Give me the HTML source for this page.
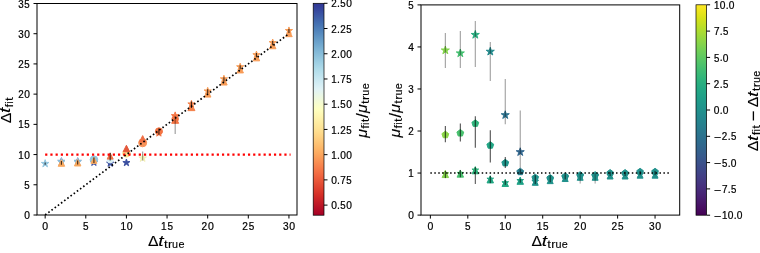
<!DOCTYPE html>
<html><head><meta charset="utf-8"><style>html,body{margin:0;padding:0;background:#fff;width:760px;height:253px;overflow:hidden}svg{display:block;will-change:transform}text{font-family:"Liberation Sans", sans-serif}</style></head><body>
<svg width="760" height="253" viewBox="0 0 760 253" font-family='"Liberation Sans", sans-serif' fill="#000"><rect x="0" y="0" width="760" height="253" fill="#fff"/>
<defs><clipPath id="cl"><rect x="37.00" y="3.50" width="260.00" height="211.50"/></clipPath><clipPath id="cr"><rect x="421.00" y="4.90" width="258.70" height="210.20"/></clipPath></defs>
<g clip-path="url(#cl)">
<polygon points="61.41,157.77 60.57,160.36 57.85,160.36 60.05,161.96 59.21,164.55 61.41,162.95 63.62,164.55 62.77,161.96 64.98,160.36 62.25,160.36 61.41,157.77" fill="#3b4fa0" stroke="#3b4fa0" stroke-width="1.00" stroke-linejoin="miter" stroke-miterlimit="10"/>
<polygon points="77.66,157.77 76.82,160.36 74.10,160.36 76.30,161.96 75.46,164.55 77.66,162.95 79.87,164.55 79.03,161.96 81.23,160.36 78.51,160.36 77.66,157.77" fill="#3b4fa0" stroke="#3b4fa0" stroke-width="1.00" stroke-linejoin="miter" stroke-miterlimit="10"/>
<polygon points="93.92,158.68 93.07,161.27 90.35,161.27 92.55,162.87 91.71,165.46 93.92,163.86 96.12,165.46 95.28,162.87 97.48,161.27 94.76,161.27 93.92,158.68" fill="#3b4fa0" stroke="#3b4fa0" stroke-width="1.00" stroke-linejoin="miter" stroke-miterlimit="10"/>
<polygon points="110.17,159.58 109.33,162.17 106.60,162.17 108.81,163.77 107.96,166.37 110.17,164.76 112.37,166.37 111.53,163.77 113.73,162.17 111.01,162.17 110.17,159.58" fill="#3b4fa0" stroke="#3b4fa0" stroke-width="1.00" stroke-linejoin="miter" stroke-miterlimit="10"/>
<polygon points="126.42,158.98 125.58,161.57 122.85,161.57 125.06,163.17 124.22,165.76 126.42,164.16 128.62,165.76 127.78,163.17 129.99,161.57 127.26,161.57 126.42,158.98" fill="#3b4fa0" stroke="#3b4fa0" stroke-width="1.00" stroke-linejoin="miter" stroke-miterlimit="10"/>
<polygon points="45.16,159.63 44.26,162.40 41.36,162.40 43.71,164.11 42.81,166.87 45.16,165.16 47.51,166.87 46.61,164.11 48.96,162.40 46.06,162.40 45.16,159.63" fill="#93c6df" stroke="#93c6df" stroke-width="1.00" stroke-linejoin="miter" stroke-miterlimit="10"/>
<line x1="45.16" y1="164.84" x2="45.16" y2="162.43" stroke="rgba(0,0,0,0.75)" stroke-width="1.10"/>
<polygon points="61.41,158.07 60.57,160.66 57.85,160.66 60.05,162.26 59.21,164.86 61.41,163.25 63.62,164.86 62.77,162.26 64.98,160.66 62.25,160.66 61.41,158.07" fill="#93c6df" stroke="#93c6df" stroke-width="1.00" stroke-linejoin="miter" stroke-miterlimit="10"/>
<polygon points="77.66,158.07 76.82,160.66 74.10,160.66 76.30,162.26 75.46,164.86 77.66,163.25 79.87,164.86 79.03,162.26 81.23,160.66 78.51,160.66 77.66,158.07" fill="#93c6df" stroke="#93c6df" stroke-width="1.00" stroke-linejoin="miter" stroke-miterlimit="10"/>
<circle cx="93.92" cy="159.71" r="3.80" fill="#93c6df" stroke="#93c6df" stroke-width="1.00" stroke-linejoin="miter" stroke-miterlimit="10"/>
<circle cx="110.17" cy="160.01" r="3.00" fill="#d8eef4" stroke="#d8eef4" stroke-width="1.00" stroke-linejoin="miter" stroke-miterlimit="10"/>
<polygon points="142.67,154.20 141.77,156.96 138.87,156.96 141.22,158.67 140.32,161.43 142.67,159.72 145.02,161.43 144.13,158.67 146.48,156.96 143.57,156.96 142.67,154.20" fill="#f3f0b8" stroke="#f3f0b8" stroke-width="1.00" stroke-linejoin="miter" stroke-miterlimit="10"/>
<line x1="142.67" y1="160.61" x2="142.67" y2="151.55" stroke="rgba(0,0,0,0.4)" stroke-width="1.10"/>
<polygon points="61.41,159.78 58.16,166.28 64.66,166.28 61.41,159.78" fill="#f9a85e" stroke="#f9a85e" stroke-width="1.00" stroke-linejoin="miter" stroke-miterlimit="10"/>
<line x1="61.41" y1="164.84" x2="61.41" y2="160.92" stroke="rgba(0,0,0,0.75)" stroke-width="1.10"/>
<polygon points="77.66,159.48 74.41,165.98 80.91,165.98 77.66,159.48" fill="#f9a85e" stroke="#f9a85e" stroke-width="1.00" stroke-linejoin="miter" stroke-miterlimit="10"/>
<line x1="77.66" y1="164.54" x2="77.66" y2="160.61" stroke="rgba(0,0,0,0.75)" stroke-width="1.10"/>
<polygon points="93.92,157.31 90.92,163.31 96.92,163.31 93.92,157.31" fill="#f9a85e" stroke="#f9a85e" stroke-width="1.00" stroke-linejoin="miter" stroke-miterlimit="10"/>
<line x1="93.92" y1="163.03" x2="93.92" y2="157.59" stroke="rgba(0,0,0,0.75)" stroke-width="1.10"/>
<polygon points="110.17,153.08 107.17,159.08 113.17,159.08 110.17,153.08" fill="#f07448" stroke="#f07448" stroke-width="1.00" stroke-linejoin="miter" stroke-miterlimit="10"/>
<line x1="110.17" y1="160.61" x2="110.17" y2="152.76" stroke="rgba(0,0,0,0.75)" stroke-width="1.10"/>
<circle cx="126.42" cy="153.36" r="3.75" fill="#fde08e" stroke="#fde08e" stroke-width="1.00" stroke-linejoin="miter" stroke-miterlimit="10"/>
<polygon points="126.42,145.28 123.17,151.78 129.67,151.78 126.42,145.28" fill="#e4583b" stroke="#e4583b" stroke-width="1.00" stroke-linejoin="miter" stroke-miterlimit="10"/>
<circle cx="142.67" cy="142.79" r="4.00" fill="#f7935a" stroke="#f7935a" stroke-width="1.00" stroke-linejoin="miter" stroke-miterlimit="10"/>
<polygon points="142.67,135.61 139.42,142.11 145.92,142.11 142.67,135.61" fill="#ef6f45" stroke="#ef6f45" stroke-width="1.00" stroke-linejoin="miter" stroke-miterlimit="10"/>
<polygon points="158.92,129.37 158.08,131.96 155.36,131.96 157.56,133.56 156.72,136.15 158.92,134.55 161.13,136.15 160.29,133.56 162.49,131.96 159.77,131.96 158.92,129.37" fill="#f47443" stroke="#f47443" stroke-width="1.00" stroke-linejoin="miter" stroke-miterlimit="10"/>
<circle cx="158.92" cy="131.30" r="3.50" fill="#f47443" stroke="#f47443" stroke-width="1.00" stroke-linejoin="miter" stroke-miterlimit="10"/>
<line x1="158.92" y1="134.63" x2="158.92" y2="128.59" stroke="rgba(0,0,0,0.75)" stroke-width="1.10"/>
<polygon points="175.18,116.32 171.68,123.32 178.68,123.32 175.18,116.32" fill="#f47443" stroke="#f47443" stroke-width="1.00" stroke-linejoin="miter" stroke-miterlimit="10"/>
<circle cx="175.18" cy="118.92" r="3.25" fill="#f47443" stroke="#f47443" stroke-width="1.00" stroke-linejoin="miter" stroke-miterlimit="10"/>
<polygon points="175.18,111.89 174.28,114.66 171.37,114.66 173.72,116.37 172.82,119.13 175.18,117.42 177.53,119.13 176.63,116.37 178.98,114.66 176.07,114.66 175.18,111.89" fill="#f47443" stroke="#f47443" stroke-width="1.00" stroke-linejoin="miter" stroke-miterlimit="10"/>
<line x1="175.18" y1="134.02" x2="175.18" y2="115.89" stroke="rgba(0,0,0,0.4)" stroke-width="1.10"/>
<polygon points="191.43,103.63 187.93,110.63 194.93,110.63 191.43,103.63" fill="#f4804a" stroke="#f4804a" stroke-width="1.00" stroke-linejoin="miter" stroke-miterlimit="10"/>
<polygon points="191.43,100.36 190.59,102.95 187.86,102.95 190.07,104.55 189.22,107.14 191.43,105.54 193.63,107.14 192.79,104.55 194.99,102.95 192.27,102.95 191.43,100.36" fill="#f4804a" stroke="#f4804a" stroke-width="1.00" stroke-linejoin="miter" stroke-miterlimit="10"/>
<line x1="191.43" y1="108.04" x2="191.43" y2="101.39" stroke="rgba(0,0,0,0.75)" stroke-width="1.10"/>
<polygon points="207.68,90.59 204.43,97.09 210.93,97.09 207.68,90.59" fill="#f89c57" stroke="#f89c57" stroke-width="1.00" stroke-linejoin="miter" stroke-miterlimit="10"/>
<polygon points="207.68,87.37 206.84,89.96 204.11,89.96 206.32,91.56 205.48,94.15 207.68,92.55 209.88,94.15 209.04,91.56 211.25,89.96 208.52,89.96 207.68,87.37" fill="#f89c57" stroke="#f89c57" stroke-width="1.00" stroke-linejoin="miter" stroke-miterlimit="10"/>
<line x1="207.68" y1="93.54" x2="207.68" y2="89.31" stroke="rgba(0,0,0,0.75)" stroke-width="1.10"/>
<polygon points="223.93,78.50 220.68,85.00 227.18,85.00 223.93,78.50" fill="#f89c57" stroke="#f89c57" stroke-width="1.00" stroke-linejoin="miter" stroke-miterlimit="10"/>
<polygon points="223.93,75.28 223.09,77.87 220.37,77.87 222.57,79.48 221.73,82.07 223.93,80.46 226.14,82.07 225.29,79.48 227.50,77.87 224.77,77.87 223.93,75.28" fill="#f89c57" stroke="#f89c57" stroke-width="1.00" stroke-linejoin="miter" stroke-miterlimit="10"/>
<line x1="223.93" y1="81.45" x2="223.93" y2="77.22" stroke="rgba(0,0,0,0.75)" stroke-width="1.10"/>
<polygon points="240.18,66.42 236.93,72.92 243.43,72.92 240.18,66.42" fill="#f89c57" stroke="#f89c57" stroke-width="1.00" stroke-linejoin="miter" stroke-miterlimit="10"/>
<polygon points="240.18,63.20 239.34,65.79 236.62,65.79 238.82,67.39 237.98,69.98 240.18,68.38 242.39,69.98 241.55,67.39 243.75,65.79 241.03,65.79 240.18,63.20" fill="#f89c57" stroke="#f89c57" stroke-width="1.00" stroke-linejoin="miter" stroke-miterlimit="10"/>
<line x1="240.18" y1="69.36" x2="240.18" y2="65.13" stroke="rgba(0,0,0,0.75)" stroke-width="1.10"/>
<polygon points="256.44,54.33 253.19,60.83 259.69,60.83 256.44,54.33" fill="#f89c57" stroke="#f89c57" stroke-width="1.00" stroke-linejoin="miter" stroke-miterlimit="10"/>
<polygon points="256.44,51.11 255.59,53.70 252.87,53.70 255.07,55.30 254.23,57.89 256.44,56.29 258.64,57.89 257.80,55.30 260.00,53.70 257.28,53.70 256.44,51.11" fill="#f89c57" stroke="#f89c57" stroke-width="1.00" stroke-linejoin="miter" stroke-miterlimit="10"/>
<line x1="256.44" y1="57.28" x2="256.44" y2="53.05" stroke="rgba(0,0,0,0.75)" stroke-width="1.10"/>
<polygon points="272.69,42.24 269.44,48.74 275.94,48.74 272.69,42.24" fill="#f89c57" stroke="#f89c57" stroke-width="1.00" stroke-linejoin="miter" stroke-miterlimit="10"/>
<polygon points="272.69,39.02 271.85,41.62 269.12,41.62 271.33,43.22 270.48,45.81 272.69,44.21 274.89,45.81 274.05,43.22 276.25,41.62 273.53,41.62 272.69,39.02" fill="#f89c57" stroke="#f89c57" stroke-width="1.00" stroke-linejoin="miter" stroke-miterlimit="10"/>
<line x1="272.69" y1="45.19" x2="272.69" y2="40.96" stroke="rgba(0,0,0,0.75)" stroke-width="1.10"/>
<polygon points="288.94,30.16 285.69,36.66 292.19,36.66 288.94,30.16" fill="#f89c57" stroke="#f89c57" stroke-width="1.00" stroke-linejoin="miter" stroke-miterlimit="10"/>
<polygon points="288.94,26.94 288.10,29.53 285.37,29.53 287.58,31.13 286.74,33.72 288.94,32.12 291.14,33.72 290.30,31.13 292.51,29.53 289.78,29.53 288.94,26.94" fill="#f89c57" stroke="#f89c57" stroke-width="1.00" stroke-linejoin="miter" stroke-miterlimit="10"/>
<line x1="288.94" y1="33.11" x2="288.94" y2="28.88" stroke="rgba(0,0,0,0.75)" stroke-width="1.10"/>
<line x1="45.16" y1="154.57" x2="290.57" y2="154.57" stroke="#ff0000" stroke-width="2.20" stroke-dasharray="2.2 3.0"/>
<line x1="45.16" y1="215.00" x2="288.94" y2="33.71" stroke="#000" stroke-width="1.70" stroke-dasharray="1.6 2.35"/>
</g>
<rect x="37.00" y="3.50" width="260.00" height="211.50" fill="none" stroke="#000000" stroke-width="1.00"/>
<line x1="45.16" y1="215.00" x2="45.16" y2="218.50" stroke="#000000" stroke-width="1.00"/>
<line x1="85.79" y1="215.00" x2="85.79" y2="218.50" stroke="#000000" stroke-width="1.00"/>
<line x1="126.42" y1="215.00" x2="126.42" y2="218.50" stroke="#000000" stroke-width="1.00"/>
<line x1="167.05" y1="215.00" x2="167.05" y2="218.50" stroke="#000000" stroke-width="1.00"/>
<line x1="207.68" y1="215.00" x2="207.68" y2="218.50" stroke="#000000" stroke-width="1.00"/>
<line x1="248.31" y1="215.00" x2="248.31" y2="218.50" stroke="#000000" stroke-width="1.00"/>
<line x1="288.94" y1="215.00" x2="288.94" y2="218.50" stroke="#000000" stroke-width="1.00"/>
<line x1="33.50" y1="215.00" x2="37.00" y2="215.00" stroke="#000000" stroke-width="1.00"/>
<line x1="33.50" y1="184.78" x2="37.00" y2="184.78" stroke="#000000" stroke-width="1.00"/>
<line x1="33.50" y1="154.57" x2="37.00" y2="154.57" stroke="#000000" stroke-width="1.00"/>
<line x1="33.50" y1="124.36" x2="37.00" y2="124.36" stroke="#000000" stroke-width="1.00"/>
<line x1="33.50" y1="94.14" x2="37.00" y2="94.14" stroke="#000000" stroke-width="1.00"/>
<line x1="33.50" y1="63.92" x2="37.00" y2="63.92" stroke="#000000" stroke-width="1.00"/>
<line x1="33.50" y1="33.71" x2="37.00" y2="33.71" stroke="#000000" stroke-width="1.00"/>
<line x1="33.50" y1="3.50" x2="37.00" y2="3.50" stroke="#000000" stroke-width="1.00"/>
<defs><linearGradient id="g1" x1="0" y1="1" x2="0" y2="0"><stop offset="0.0000" stop-color="#a50026"/><stop offset="0.0312" stop-color="#b50f26"/><stop offset="0.0625" stop-color="#c41e27"/><stop offset="0.0938" stop-color="#d42d27"/><stop offset="0.1250" stop-color="#de402e"/><stop offset="0.1562" stop-color="#e75337"/><stop offset="0.1875" stop-color="#f16640"/><stop offset="0.2188" stop-color="#f67a49"/><stop offset="0.2500" stop-color="#f98e52"/><stop offset="0.2812" stop-color="#fba35c"/><stop offset="0.3125" stop-color="#fdb567"/><stop offset="0.3438" stop-color="#fdc576"/><stop offset="0.3750" stop-color="#fed485"/><stop offset="0.4062" stop-color="#fee294"/><stop offset="0.4375" stop-color="#feeca2"/><stop offset="0.4688" stop-color="#fff6b1"/><stop offset="0.5000" stop-color="#feffc0"/><stop offset="0.5312" stop-color="#f5fbd2"/><stop offset="0.5625" stop-color="#ebf7e4"/><stop offset="0.5938" stop-color="#e1f3f6"/><stop offset="0.6250" stop-color="#d1ecf4"/><stop offset="0.6562" stop-color="#c1e4ef"/><stop offset="0.6875" stop-color="#b0dcea"/><stop offset="0.7188" stop-color="#9fd0e4"/><stop offset="0.7500" stop-color="#8ec2dc"/><stop offset="0.7812" stop-color="#7db4d5"/><stop offset="0.8125" stop-color="#6da4cc"/><stop offset="0.8438" stop-color="#5e93c3"/><stop offset="0.8750" stop-color="#4f81ba"/><stop offset="0.9062" stop-color="#436fb1"/><stop offset="0.9375" stop-color="#3d5ba7"/><stop offset="0.9688" stop-color="#36479e"/><stop offset="1.0000" stop-color="#313695"/></linearGradient></defs>
<rect x="313.20" y="3.30" width="10.80" height="211.90" fill="url(#g1)" stroke="#000000" stroke-width="0.70"/>
<line x1="324.00" y1="205.11" x2="327.50" y2="205.11" stroke="#000000" stroke-width="1.00"/>
<line x1="324.00" y1="179.88" x2="327.50" y2="179.88" stroke="#000000" stroke-width="1.00"/>
<line x1="324.00" y1="154.66" x2="327.50" y2="154.66" stroke="#000000" stroke-width="1.00"/>
<line x1="324.00" y1="129.43" x2="327.50" y2="129.43" stroke="#000000" stroke-width="1.00"/>
<line x1="324.00" y1="104.20" x2="327.50" y2="104.20" stroke="#000000" stroke-width="1.00"/>
<line x1="324.00" y1="78.98" x2="327.50" y2="78.98" stroke="#000000" stroke-width="1.00"/>
<line x1="324.00" y1="53.75" x2="327.50" y2="53.75" stroke="#000000" stroke-width="1.00"/>
<line x1="324.00" y1="28.53" x2="327.50" y2="28.53" stroke="#000000" stroke-width="1.00"/>
<line x1="324.00" y1="3.30" x2="327.50" y2="3.30" stroke="#000000" stroke-width="1.00"/>
<g clip-path="url(#cr)">
<polygon points="445.34,46.05 444.39,48.99 441.30,48.99 443.80,50.80 442.84,53.74 445.34,51.93 447.84,53.74 446.88,50.80 449.38,48.99 446.29,48.99 445.34,46.05" fill="#84d44b" stroke="#84d44b" stroke-width="1.00" stroke-linejoin="miter" stroke-miterlimit="10"/>
<line x1="445.34" y1="67.96" x2="445.34" y2="33.07" stroke="rgba(0,0,0,0.38)" stroke-width="1.10"/>
<polygon points="460.32,49.00 459.37,51.93 456.28,51.93 458.78,53.75 457.82,56.68 460.32,54.87 462.82,56.68 461.86,53.75 464.36,51.93 461.27,51.93 460.32,49.00" fill="#44bf70" stroke="#44bf70" stroke-width="1.00" stroke-linejoin="miter" stroke-miterlimit="10"/>
<line x1="460.32" y1="67.96" x2="460.32" y2="30.96" stroke="rgba(0,0,0,0.38)" stroke-width="1.10"/>
<polygon points="475.30,30.50 474.35,33.44 471.26,33.44 473.76,35.25 472.80,38.19 475.30,36.37 477.80,38.19 476.84,35.25 479.34,33.44 476.25,33.44 475.30,30.50" fill="#28ae80" stroke="#28ae80" stroke-width="1.00" stroke-linejoin="miter" stroke-miterlimit="10"/>
<line x1="475.30" y1="67.12" x2="475.30" y2="20.88" stroke="rgba(0,0,0,0.38)" stroke-width="1.10"/>
<polygon points="490.28,47.31 489.33,50.25 486.24,50.25 488.74,52.07 487.78,55.00 490.28,53.19 492.78,55.00 491.82,52.07 494.32,50.25 491.23,50.25 490.28,47.31" fill="#238a8d" stroke="#238a8d" stroke-width="1.00" stroke-linejoin="miter" stroke-miterlimit="10"/>
<line x1="490.28" y1="80.99" x2="490.28" y2="41.90" stroke="rgba(0,0,0,0.38)" stroke-width="1.10"/>
<polygon points="505.26,110.79 504.31,113.73 501.22,113.73 503.72,115.55 502.76,118.48 505.26,116.67 507.76,118.48 506.80,115.55 509.30,113.73 506.21,113.73 505.26,110.79" fill="#2c728e" stroke="#2c728e" stroke-width="1.00" stroke-linejoin="miter" stroke-miterlimit="10"/>
<line x1="505.26" y1="124.29" x2="505.26" y2="78.89" stroke="rgba(0,0,0,0.38)" stroke-width="1.10"/>
<polygon points="520.24,147.79 519.29,150.73 516.20,150.73 518.70,152.54 517.74,155.48 520.24,153.66 522.74,155.48 521.78,152.54 524.28,150.73 521.19,150.73 520.24,147.79" fill="#31668e" stroke="#31668e" stroke-width="1.00" stroke-linejoin="miter" stroke-miterlimit="10"/>
<line x1="520.24" y1="173.06" x2="520.24" y2="110.42" stroke="rgba(0,0,0,0.38)" stroke-width="1.10"/>
<polygon points="445.34,131.20 441.92,133.69 443.22,137.72 447.46,137.72 448.76,133.69 445.34,131.20" fill="#8bd646" stroke="#8bd646" stroke-width="1.00" stroke-linejoin="miter" stroke-miterlimit="10"/>
<line x1="445.34" y1="142.37" x2="445.34" y2="125.98" stroke="rgba(0,0,0,0.72)" stroke-width="1.05"/>
<polygon points="460.32,129.52 456.90,132.01 458.20,136.03 462.44,136.03 463.74,132.01 460.32,129.52" fill="#48c16e" stroke="#48c16e" stroke-width="1.00" stroke-linejoin="miter" stroke-miterlimit="10"/>
<line x1="460.32" y1="141.53" x2="460.32" y2="123.45" stroke="rgba(0,0,0,0.72)" stroke-width="1.05"/>
<polygon points="475.30,119.85 471.88,122.34 473.18,126.37 477.42,126.37 478.72,122.34 475.30,119.85" fill="#2fb47c" stroke="#2fb47c" stroke-width="1.00" stroke-linejoin="miter" stroke-miterlimit="10"/>
<line x1="475.30" y1="147.84" x2="475.30" y2="116.31" stroke="rgba(0,0,0,0.72)" stroke-width="1.05"/>
<polygon points="490.28,141.71 486.86,144.20 488.16,148.23 492.40,148.23 493.70,144.20 490.28,141.71" fill="#21a685" stroke="#21a685" stroke-width="1.00" stroke-linejoin="miter" stroke-miterlimit="10"/>
<line x1="490.28" y1="162.55" x2="490.28" y2="130.18" stroke="rgba(0,0,0,0.72)" stroke-width="1.05"/>
<polygon points="505.26,159.37 501.84,161.86 503.14,165.88 507.38,165.88 508.68,161.86 505.26,159.37" fill="#1f968b" stroke="#1f968b" stroke-width="1.00" stroke-linejoin="miter" stroke-miterlimit="10"/>
<line x1="505.26" y1="168.02" x2="505.26" y2="157.08" stroke="rgba(0,0,0,0.72)" stroke-width="1.05"/>
<polygon points="520.24,168.20 516.82,170.69 518.12,174.71 522.36,174.71 523.66,170.69 520.24,168.20" fill="#277e8e" stroke="#277e8e" stroke-width="1.00" stroke-linejoin="miter" stroke-miterlimit="10"/>
<line x1="520.24" y1="174.32" x2="520.24" y2="169.28" stroke="rgba(0,0,0,0.72)" stroke-width="1.05"/>
<polygon points="445.34,171.07 442.09,177.57 448.59,177.57 445.34,171.07" fill="#84d44b" stroke="#84d44b" stroke-width="1.00" stroke-linejoin="miter" stroke-miterlimit="10"/>
<polygon points="445.34,170.40 444.55,172.82 442.01,172.82 444.07,174.31 443.28,176.73 445.34,175.24 447.40,176.73 446.61,174.31 448.67,172.82 446.13,172.82 445.34,170.40" fill="#84d44b" stroke="#84d44b" stroke-width="1.00" stroke-linejoin="miter" stroke-miterlimit="10"/>
<line x1="445.34" y1="178.10" x2="445.34" y2="170.96" stroke="rgba(0,0,0,0.72)" stroke-width="1.00"/>
<polygon points="460.32,170.65 457.07,177.15 463.57,177.15 460.32,170.65" fill="#48c16e" stroke="#48c16e" stroke-width="1.00" stroke-linejoin="miter" stroke-miterlimit="10"/>
<polygon points="460.32,169.98 459.53,172.40 456.99,172.40 459.05,173.89 458.26,176.31 460.32,174.82 462.38,176.31 461.59,173.89 463.65,172.40 461.11,172.40 460.32,169.98" fill="#48c16e" stroke="#48c16e" stroke-width="1.00" stroke-linejoin="miter" stroke-miterlimit="10"/>
<line x1="460.32" y1="177.26" x2="460.32" y2="170.12" stroke="rgba(0,0,0,0.72)" stroke-width="1.00"/>
<polygon points="475.30,167.29 472.05,173.79 478.55,173.79 475.30,167.29" fill="#2fb47c" stroke="#2fb47c" stroke-width="1.00" stroke-linejoin="miter" stroke-miterlimit="10"/>
<polygon points="475.30,166.62 474.51,169.04 471.97,169.04 474.03,170.53 473.24,172.95 475.30,171.45 477.36,172.95 476.57,170.53 478.63,169.04 476.09,169.04 475.30,166.62" fill="#2fb47c" stroke="#2fb47c" stroke-width="1.00" stroke-linejoin="miter" stroke-miterlimit="10"/>
<line x1="475.30" y1="183.99" x2="475.30" y2="167.17" stroke="rgba(0,0,0,0.72)" stroke-width="1.00"/>
<polygon points="490.28,176.41 487.03,182.91 493.53,182.91 490.28,176.41" fill="#22a884" stroke="#22a884" stroke-width="1.00" stroke-linejoin="miter" stroke-miterlimit="10"/>
<polygon points="490.28,175.74 489.49,178.16 486.95,178.16 489.01,179.65 488.22,182.07 490.28,180.58 492.34,182.07 491.55,179.65 493.61,178.16 491.07,178.16 490.28,175.74" fill="#22a884" stroke="#22a884" stroke-width="1.00" stroke-linejoin="miter" stroke-miterlimit="10"/>
<line x1="490.28" y1="183.15" x2="490.28" y2="176.00" stroke="rgba(0,0,0,0.72)" stroke-width="1.00"/>
<polygon points="505.26,179.98 502.01,186.48 508.51,186.48 505.26,179.98" fill="#22a884" stroke="#22a884" stroke-width="1.00" stroke-linejoin="miter" stroke-miterlimit="10"/>
<polygon points="505.26,179.31 504.47,181.73 501.93,181.73 503.99,183.23 503.20,185.64 505.26,184.15 507.32,185.64 506.53,183.23 508.59,181.73 506.05,181.73 505.26,179.31" fill="#22a884" stroke="#22a884" stroke-width="1.00" stroke-linejoin="miter" stroke-miterlimit="10"/>
<line x1="505.26" y1="184.83" x2="505.26" y2="180.21" stroke="rgba(0,0,0,0.72)" stroke-width="1.00"/>
<polygon points="520.24,177.80 516.99,184.30 523.49,184.30 520.24,177.80" fill="#1fa287" stroke="#1fa287" stroke-width="1.00" stroke-linejoin="miter" stroke-miterlimit="10"/>
<polygon points="520.24,177.13 519.45,179.55 516.91,179.55 518.97,181.04 518.18,183.46 520.24,181.96 522.30,183.46 521.51,181.04 523.57,179.55 521.03,179.55 520.24,177.13" fill="#1fa287" stroke="#1fa287" stroke-width="1.00" stroke-linejoin="miter" stroke-miterlimit="10"/>
<line x1="520.24" y1="182.73" x2="520.24" y2="178.95" stroke="rgba(0,0,0,0.72)" stroke-width="1.00"/>
<polygon points="535.22,174.18 531.89,176.60 533.16,180.52 537.28,180.52 538.55,176.60 535.22,174.18" fill="#20938c" stroke="#20938c" stroke-width="1.00" stroke-linejoin="miter" stroke-miterlimit="10"/>
<polygon points="535.22,179.31 532.22,185.31 538.22,185.31 535.22,179.31" fill="#20938c" stroke="#20938c" stroke-width="1.00" stroke-linejoin="miter" stroke-miterlimit="10"/>
<polygon points="535.22,177.97 534.43,180.39 531.89,180.39 533.95,181.88 533.16,184.30 535.22,182.80 537.28,184.30 536.49,181.88 538.55,180.39 536.01,180.39 535.22,177.97" fill="#20938c" stroke="#20938c" stroke-width="1.00" stroke-linejoin="miter" stroke-miterlimit="10"/>
<line x1="535.22" y1="183.99" x2="535.22" y2="175.16" stroke="rgba(0,0,0,0.72)" stroke-width="1.00"/>
<polygon points="550.20,174.60 546.87,177.02 548.14,180.94 552.26,180.94 553.53,177.02 550.20,174.60" fill="#20938c" stroke="#20938c" stroke-width="1.00" stroke-linejoin="miter" stroke-miterlimit="10"/>
<polygon points="550.20,177.63 547.20,183.63 553.20,183.63 550.20,177.63" fill="#20938c" stroke="#20938c" stroke-width="1.00" stroke-linejoin="miter" stroke-miterlimit="10"/>
<polygon points="550.20,176.29 549.41,178.70 546.87,178.70 548.93,180.20 548.14,182.62 550.20,181.12 552.26,182.62 551.47,180.20 553.53,178.70 550.99,178.70 550.20,176.29" fill="#20938c" stroke="#20938c" stroke-width="1.00" stroke-linejoin="miter" stroke-miterlimit="10"/>
<line x1="550.20" y1="182.31" x2="550.20" y2="175.16" stroke="rgba(0,0,0,0.72)" stroke-width="1.00"/>
<polygon points="565.18,172.92 561.85,175.34 563.12,179.25 567.24,179.25 568.51,175.34 565.18,172.92" fill="#21918c" stroke="#21918c" stroke-width="1.00" stroke-linejoin="miter" stroke-miterlimit="10"/>
<polygon points="565.18,175.53 562.18,181.53 568.18,181.53 565.18,175.53" fill="#21918c" stroke="#21918c" stroke-width="1.00" stroke-linejoin="miter" stroke-miterlimit="10"/>
<polygon points="565.18,174.18 564.39,176.60 561.85,176.60 563.91,178.10 563.12,180.52 565.18,179.02 567.24,180.52 566.45,178.10 568.51,176.60 565.97,176.60 565.18,174.18" fill="#21918c" stroke="#21918c" stroke-width="1.00" stroke-linejoin="miter" stroke-miterlimit="10"/>
<line x1="565.18" y1="179.37" x2="565.18" y2="174.32" stroke="rgba(0,0,0,0.72)" stroke-width="1.00"/>
<polygon points="580.16,171.66 576.83,174.08 578.10,177.99 582.22,177.99 583.49,174.08 580.16,171.66" fill="#21918c" stroke="#21918c" stroke-width="1.00" stroke-linejoin="miter" stroke-miterlimit="10"/>
<polygon points="580.16,174.26 577.16,180.26 583.16,180.26 580.16,174.26" fill="#21918c" stroke="#21918c" stroke-width="1.00" stroke-linejoin="miter" stroke-miterlimit="10"/>
<polygon points="580.16,172.92 579.37,175.34 576.83,175.34 578.89,176.84 578.10,179.25 580.16,177.76 582.22,179.25 581.43,176.84 583.49,175.34 580.95,175.34 580.16,172.92" fill="#21918c" stroke="#21918c" stroke-width="1.00" stroke-linejoin="miter" stroke-miterlimit="10"/>
<line x1="580.16" y1="183.57" x2="580.16" y2="173.06" stroke="rgba(0,0,0,0.38)" stroke-width="1.00"/>
<polygon points="595.14,171.66 591.81,174.08 593.08,177.99 597.20,177.99 598.47,174.08 595.14,171.66" fill="#21918c" stroke="#21918c" stroke-width="1.00" stroke-linejoin="miter" stroke-miterlimit="10"/>
<polygon points="595.14,174.26 592.14,180.26 598.14,180.26 595.14,174.26" fill="#21918c" stroke="#21918c" stroke-width="1.00" stroke-linejoin="miter" stroke-miterlimit="10"/>
<polygon points="595.14,172.92 594.35,175.34 591.81,175.34 593.87,176.84 593.08,179.25 595.14,177.76 597.20,179.25 596.41,176.84 598.47,175.34 595.93,175.34 595.14,172.92" fill="#21918c" stroke="#21918c" stroke-width="1.00" stroke-linejoin="miter" stroke-miterlimit="10"/>
<line x1="595.14" y1="183.57" x2="595.14" y2="173.06" stroke="rgba(0,0,0,0.38)" stroke-width="1.00"/>
<polygon points="610.12,169.56 606.79,171.98 608.06,175.89 612.18,175.89 613.45,171.98 610.12,169.56" fill="#21918c" stroke="#21918c" stroke-width="1.00" stroke-linejoin="miter" stroke-miterlimit="10"/>
<polygon points="610.12,173.00 607.12,179.00 613.12,179.00 610.12,173.00" fill="#21918c" stroke="#21918c" stroke-width="1.00" stroke-linejoin="miter" stroke-miterlimit="10"/>
<polygon points="610.12,171.66 609.33,174.08 606.79,174.08 608.85,175.58 608.06,177.99 610.12,176.50 612.18,177.99 611.39,175.58 613.45,174.08 610.91,174.08 610.12,171.66" fill="#21918c" stroke="#21918c" stroke-width="1.00" stroke-linejoin="miter" stroke-miterlimit="10"/>
<line x1="610.12" y1="176.00" x2="610.12" y2="171.80" stroke="rgba(0,0,0,0.72)" stroke-width="1.00"/>
<polygon points="625.10,169.56 621.77,171.98 623.04,175.89 627.16,175.89 628.43,171.98 625.10,169.56" fill="#21918c" stroke="#21918c" stroke-width="1.00" stroke-linejoin="miter" stroke-miterlimit="10"/>
<polygon points="625.10,173.00 622.10,179.00 628.10,179.00 625.10,173.00" fill="#21918c" stroke="#21918c" stroke-width="1.00" stroke-linejoin="miter" stroke-miterlimit="10"/>
<polygon points="625.10,171.66 624.31,174.08 621.77,174.08 623.83,175.58 623.04,177.99 625.10,176.50 627.16,177.99 626.37,175.58 628.43,174.08 625.89,174.08 625.10,171.66" fill="#21918c" stroke="#21918c" stroke-width="1.00" stroke-linejoin="miter" stroke-miterlimit="10"/>
<line x1="625.10" y1="176.00" x2="625.10" y2="171.80" stroke="rgba(0,0,0,0.72)" stroke-width="1.00"/>
<polygon points="640.08,168.30 636.75,170.72 638.02,174.63 642.14,174.63 643.41,170.72 640.08,168.30" fill="#21918c" stroke="#21918c" stroke-width="1.00" stroke-linejoin="miter" stroke-miterlimit="10"/>
<polygon points="640.08,172.16 637.08,178.16 643.08,178.16 640.08,172.16" fill="#21918c" stroke="#21918c" stroke-width="1.00" stroke-linejoin="miter" stroke-miterlimit="10"/>
<polygon points="640.08,170.82 639.29,173.24 636.75,173.24 638.81,174.73 638.02,177.15 640.08,175.66 642.14,177.15 641.35,174.73 643.41,173.24 640.87,173.24 640.08,170.82" fill="#21918c" stroke="#21918c" stroke-width="1.00" stroke-linejoin="miter" stroke-miterlimit="10"/>
<line x1="640.08" y1="175.16" x2="640.08" y2="170.96" stroke="rgba(0,0,0,0.72)" stroke-width="1.00"/>
<polygon points="655.06,168.30 651.73,170.72 653.00,174.63 657.12,174.63 658.39,170.72 655.06,168.30" fill="#21918c" stroke="#21918c" stroke-width="1.00" stroke-linejoin="miter" stroke-miterlimit="10"/>
<polygon points="655.06,172.16 652.06,178.16 658.06,178.16 655.06,172.16" fill="#21918c" stroke="#21918c" stroke-width="1.00" stroke-linejoin="miter" stroke-miterlimit="10"/>
<polygon points="655.06,170.82 654.27,173.24 651.73,173.24 653.79,174.73 653.00,177.15 655.06,175.66 657.12,177.15 656.33,174.73 658.39,173.24 655.85,173.24 655.06,170.82" fill="#21918c" stroke="#21918c" stroke-width="1.00" stroke-linejoin="miter" stroke-miterlimit="10"/>
<line x1="655.06" y1="175.16" x2="655.06" y2="170.96" stroke="rgba(0,0,0,0.72)" stroke-width="1.00"/>
<line x1="430.36" y1="173.06" x2="670.04" y2="173.06" stroke="#000" stroke-width="1.50" stroke-dasharray="1.5 2.45"/>
</g>
<rect x="421.00" y="4.90" width="258.70" height="210.20" fill="none" stroke="#000000" stroke-width="1.00"/>
<line x1="430.36" y1="215.10" x2="430.36" y2="218.60" stroke="#000000" stroke-width="1.00"/>
<line x1="467.81" y1="215.10" x2="467.81" y2="218.60" stroke="#000000" stroke-width="1.00"/>
<line x1="505.26" y1="215.10" x2="505.26" y2="218.60" stroke="#000000" stroke-width="1.00"/>
<line x1="542.71" y1="215.10" x2="542.71" y2="218.60" stroke="#000000" stroke-width="1.00"/>
<line x1="580.16" y1="215.10" x2="580.16" y2="218.60" stroke="#000000" stroke-width="1.00"/>
<line x1="617.61" y1="215.10" x2="617.61" y2="218.60" stroke="#000000" stroke-width="1.00"/>
<line x1="655.06" y1="215.10" x2="655.06" y2="218.60" stroke="#000000" stroke-width="1.00"/>
<line x1="417.50" y1="215.10" x2="421.00" y2="215.10" stroke="#000000" stroke-width="1.00"/>
<line x1="417.50" y1="173.06" x2="421.00" y2="173.06" stroke="#000000" stroke-width="1.00"/>
<line x1="417.50" y1="131.02" x2="421.00" y2="131.02" stroke="#000000" stroke-width="1.00"/>
<line x1="417.50" y1="88.98" x2="421.00" y2="88.98" stroke="#000000" stroke-width="1.00"/>
<line x1="417.50" y1="46.94" x2="421.00" y2="46.94" stroke="#000000" stroke-width="1.00"/>
<line x1="417.50" y1="4.90" x2="421.00" y2="4.90" stroke="#000000" stroke-width="1.00"/>
<defs><linearGradient id="g2" x1="0" y1="1" x2="0" y2="0"><stop offset="0.0000" stop-color="#440154"/><stop offset="0.0312" stop-color="#470d60"/><stop offset="0.0625" stop-color="#48186a"/><stop offset="0.0938" stop-color="#482374"/><stop offset="0.1250" stop-color="#472d7b"/><stop offset="0.1562" stop-color="#453781"/><stop offset="0.1875" stop-color="#424086"/><stop offset="0.2188" stop-color="#3e4989"/><stop offset="0.2500" stop-color="#3b528b"/><stop offset="0.2812" stop-color="#375b8d"/><stop offset="0.3125" stop-color="#33638d"/><stop offset="0.3438" stop-color="#2f6b8e"/><stop offset="0.3750" stop-color="#2c728e"/><stop offset="0.4062" stop-color="#297a8e"/><stop offset="0.4375" stop-color="#26828e"/><stop offset="0.4688" stop-color="#23898e"/><stop offset="0.5000" stop-color="#21918c"/><stop offset="0.5312" stop-color="#1f988b"/><stop offset="0.5625" stop-color="#1fa088"/><stop offset="0.5938" stop-color="#22a785"/><stop offset="0.6250" stop-color="#28ae80"/><stop offset="0.6562" stop-color="#32b67a"/><stop offset="0.6875" stop-color="#3fbc73"/><stop offset="0.7188" stop-color="#4ec36b"/><stop offset="0.7500" stop-color="#5ec962"/><stop offset="0.7812" stop-color="#70cf57"/><stop offset="0.8125" stop-color="#84d44b"/><stop offset="0.8438" stop-color="#98d83e"/><stop offset="0.8750" stop-color="#addc30"/><stop offset="0.9062" stop-color="#c2df23"/><stop offset="0.9375" stop-color="#d8e219"/><stop offset="0.9688" stop-color="#ece51b"/><stop offset="1.0000" stop-color="#fde725"/></linearGradient></defs>
<rect x="696.00" y="4.80" width="10.60" height="210.40" fill="url(#g2)" stroke="#000000" stroke-width="0.70"/>
<line x1="706.60" y1="4.80" x2="710.10" y2="4.80" stroke="#000000" stroke-width="1.00"/>
<line x1="706.60" y1="31.10" x2="710.10" y2="31.10" stroke="#000000" stroke-width="1.00"/>
<line x1="706.60" y1="57.40" x2="710.10" y2="57.40" stroke="#000000" stroke-width="1.00"/>
<line x1="706.60" y1="83.70" x2="710.10" y2="83.70" stroke="#000000" stroke-width="1.00"/>
<line x1="706.60" y1="110.00" x2="710.10" y2="110.00" stroke="#000000" stroke-width="1.00"/>
<line x1="706.60" y1="136.30" x2="710.10" y2="136.30" stroke="#000000" stroke-width="1.00"/>
<line x1="706.60" y1="162.60" x2="710.10" y2="162.60" stroke="#000000" stroke-width="1.00"/>
<line x1="706.60" y1="188.90" x2="710.10" y2="188.90" stroke="#000000" stroke-width="1.00"/>
<line x1="706.60" y1="215.20" x2="710.10" y2="215.20" stroke="#000000" stroke-width="1.00"/>
<text transform="translate(42.226 229.636) scale(1.0541 1.0683)" font-size="10.00" stroke="#000" stroke-width="0.207">0</text>
<text transform="translate(82.982 229.636) scale(0.9949 1.0651)" font-size="10.00" stroke="#000" stroke-width="0.214">5</text>
<text transform="translate(120.389 229.598) scale(1.0068 1.0596)" font-size="10.00" stroke="#000" stroke-width="0.213">1</text><text transform="translate(126.667 229.636) scale(1.0541 1.0683)" font-size="10.00" stroke="#000" stroke-width="0.207">0</text>
<text transform="translate(161.019 229.598) scale(1.0068 1.0596)" font-size="10.00" stroke="#000" stroke-width="0.213">1</text><text transform="translate(167.423 229.636) scale(0.9949 1.0651)" font-size="10.00" stroke="#000" stroke-width="0.214">5</text>
<text transform="translate(201.539 229.598) scale(1.0161 1.0629)" font-size="10.00" stroke="#000" stroke-width="0.212">2</text><text transform="translate(207.927 229.636) scale(1.0541 1.0683)" font-size="10.00" stroke="#000" stroke-width="0.207">0</text>
<text transform="translate(242.169 229.598) scale(1.0161 1.0629)" font-size="10.00" stroke="#000" stroke-width="0.212">2</text><text transform="translate(248.683 229.636) scale(0.9949 1.0651)" font-size="10.00" stroke="#000" stroke-width="0.214">5</text>
<text transform="translate(282.954 229.636) scale(1.0124 1.0683)" font-size="10.00" stroke="#000" stroke-width="0.211">3</text><text transform="translate(289.187 229.636) scale(1.0541 1.0683)" font-size="10.00" stroke="#000" stroke-width="0.207">0</text>
<text transform="translate(24.240 219.135) scale(1.0225 1.0149)" font-size="10.00" stroke="#000" stroke-width="0.216">0</text>
<text transform="translate(24.362 188.921) scale(0.9650 1.0118)" font-size="10.00" stroke="#000" stroke-width="0.223">5</text>
<text transform="translate(18.322 158.671) scale(0.9766 1.0066)" font-size="10.00" stroke="#000" stroke-width="0.222">1</text><text transform="translate(24.240 158.706) scale(1.0225 1.0149)" font-size="10.00" stroke="#000" stroke-width="0.216">0</text>
<text transform="translate(18.322 128.456) scale(0.9766 1.0066)" font-size="10.00" stroke="#000" stroke-width="0.222">1</text><text transform="translate(24.362 128.492) scale(0.9650 1.0118)" font-size="10.00" stroke="#000" stroke-width="0.223">5</text>
<text transform="translate(18.215 98.242) scale(0.9856 1.0098)" font-size="10.00" stroke="#000" stroke-width="0.221">2</text><text transform="translate(24.240 98.277) scale(1.0225 1.0149)" font-size="10.00" stroke="#000" stroke-width="0.216">0</text>
<text transform="translate(18.215 68.028) scale(0.9856 1.0098)" font-size="10.00" stroke="#000" stroke-width="0.221">2</text><text transform="translate(24.362 68.064) scale(0.9650 1.0118)" font-size="10.00" stroke="#000" stroke-width="0.223">5</text>
<text transform="translate(18.365 37.849) scale(0.9820 1.0149)" font-size="10.00" stroke="#000" stroke-width="0.220">3</text><text transform="translate(24.240 37.849) scale(1.0225 1.0149)" font-size="10.00" stroke="#000" stroke-width="0.216">0</text>
<text transform="translate(18.365 7.635) scale(0.9820 1.0149)" font-size="10.00" stroke="#000" stroke-width="0.220">3</text><text transform="translate(24.362 7.635) scale(0.9650 1.0118)" font-size="10.00" stroke="#000" stroke-width="0.223">5</text>
<text transform="translate(427.426 229.736) scale(1.0541 1.0683)" font-size="10.00" stroke="#000" stroke-width="0.207">0</text>
<text transform="translate(465.002 229.736) scale(0.9949 1.0651)" font-size="10.00" stroke="#000" stroke-width="0.214">5</text>
<text transform="translate(499.229 229.698) scale(1.0068 1.0596)" font-size="10.00" stroke="#000" stroke-width="0.213">1</text><text transform="translate(505.507 229.736) scale(1.0541 1.0683)" font-size="10.00" stroke="#000" stroke-width="0.207">0</text>
<text transform="translate(536.679 229.698) scale(1.0068 1.0596)" font-size="10.00" stroke="#000" stroke-width="0.213">1</text><text transform="translate(543.083 229.736) scale(0.9949 1.0651)" font-size="10.00" stroke="#000" stroke-width="0.214">5</text>
<text transform="translate(574.019 229.698) scale(1.0161 1.0629)" font-size="10.00" stroke="#000" stroke-width="0.212">2</text><text transform="translate(580.407 229.736) scale(1.0541 1.0683)" font-size="10.00" stroke="#000" stroke-width="0.207">0</text>
<text transform="translate(611.469 229.698) scale(1.0161 1.0629)" font-size="10.00" stroke="#000" stroke-width="0.212">2</text><text transform="translate(617.983 229.736) scale(0.9949 1.0651)" font-size="10.00" stroke="#000" stroke-width="0.214">5</text>
<text transform="translate(649.074 229.736) scale(1.0124 1.0683)" font-size="10.00" stroke="#000" stroke-width="0.211">3</text><text transform="translate(655.307 229.736) scale(1.0541 1.0683)" font-size="10.00" stroke="#000" stroke-width="0.207">0</text>
<text transform="translate(408.240 219.235) scale(1.0225 1.0149)" font-size="10.00" stroke="#000" stroke-width="0.216">0</text>
<text transform="translate(408.322 177.159) scale(0.9766 1.0066)" font-size="10.00" stroke="#000" stroke-width="0.222">1</text>
<text transform="translate(408.215 135.119) scale(0.9856 1.0098)" font-size="10.00" stroke="#000" stroke-width="0.221">2</text>
<text transform="translate(408.365 93.115) scale(0.9820 1.0149)" font-size="10.00" stroke="#000" stroke-width="0.220">3</text>
<text transform="translate(408.239 51.039) scale(1.0226 1.0066)" font-size="10.00" stroke="#000" stroke-width="0.217">4</text>
<text transform="translate(408.362 9.035) scale(0.9650 1.0118)" font-size="10.00" stroke="#000" stroke-width="0.223">5</text>
<text transform="translate(331.240 209.244) scale(1.0225 1.0149)" font-size="10.00" stroke="#000" stroke-width="0.216">0</text><text transform="translate(337.079 209.209) scale(1.0496 1.1018)" font-size="10.00" stroke="#000" stroke-width="0.205">.</text><text transform="translate(340.362 209.244) scale(0.9650 1.0118)" font-size="10.00" stroke="#000" stroke-width="0.223">5</text><text transform="translate(346.240 209.244) scale(1.0225 1.0149)" font-size="10.00" stroke="#000" stroke-width="0.216">0</text>
<text transform="translate(331.240 184.018) scale(1.0225 1.0149)" font-size="10.00" stroke="#000" stroke-width="0.216">0</text><text transform="translate(337.079 183.983) scale(1.0496 1.1018)" font-size="10.00" stroke="#000" stroke-width="0.205">.</text><text transform="translate(340.283 183.983) scale(1.0002 1.0066)" font-size="10.00" stroke="#000" stroke-width="0.219">7</text><text transform="translate(346.362 184.018) scale(0.9650 1.0118)" font-size="10.00" stroke="#000" stroke-width="0.223">5</text>
<text transform="translate(331.322 158.756) scale(0.9766 1.0066)" font-size="10.00" stroke="#000" stroke-width="0.222">1</text><text transform="translate(337.079 158.756) scale(1.0496 1.1018)" font-size="10.00" stroke="#000" stroke-width="0.205">.</text><text transform="translate(340.240 158.792) scale(1.0225 1.0149)" font-size="10.00" stroke="#000" stroke-width="0.216">0</text><text transform="translate(346.240 158.792) scale(1.0225 1.0149)" font-size="10.00" stroke="#000" stroke-width="0.216">0</text>
<text transform="translate(331.322 133.530) scale(0.9766 1.0066)" font-size="10.00" stroke="#000" stroke-width="0.222">1</text><text transform="translate(337.079 133.530) scale(1.0496 1.1018)" font-size="10.00" stroke="#000" stroke-width="0.205">.</text><text transform="translate(340.215 133.530) scale(0.9856 1.0098)" font-size="10.00" stroke="#000" stroke-width="0.221">2</text><text transform="translate(346.362 133.566) scale(0.9650 1.0118)" font-size="10.00" stroke="#000" stroke-width="0.223">5</text>
<text transform="translate(331.322 108.304) scale(0.9766 1.0066)" font-size="10.00" stroke="#000" stroke-width="0.222">1</text><text transform="translate(337.079 108.304) scale(1.0496 1.1018)" font-size="10.00" stroke="#000" stroke-width="0.205">.</text><text transform="translate(340.362 108.340) scale(0.9650 1.0118)" font-size="10.00" stroke="#000" stroke-width="0.223">5</text><text transform="translate(346.240 108.339) scale(1.0225 1.0149)" font-size="10.00" stroke="#000" stroke-width="0.216">0</text>
<text transform="translate(331.322 83.078) scale(0.9766 1.0066)" font-size="10.00" stroke="#000" stroke-width="0.222">1</text><text transform="translate(337.079 83.078) scale(1.0496 1.1018)" font-size="10.00" stroke="#000" stroke-width="0.205">.</text><text transform="translate(340.283 83.078) scale(1.0002 1.0066)" font-size="10.00" stroke="#000" stroke-width="0.219">7</text><text transform="translate(346.362 83.114) scale(0.9650 1.0118)" font-size="10.00" stroke="#000" stroke-width="0.223">5</text>
<text transform="translate(331.215 57.852) scale(0.9856 1.0098)" font-size="10.00" stroke="#000" stroke-width="0.221">2</text><text transform="translate(337.079 57.852) scale(1.0496 1.1018)" font-size="10.00" stroke="#000" stroke-width="0.205">.</text><text transform="translate(340.240 57.887) scale(1.0225 1.0149)" font-size="10.00" stroke="#000" stroke-width="0.216">0</text><text transform="translate(346.240 57.887) scale(1.0225 1.0149)" font-size="10.00" stroke="#000" stroke-width="0.216">0</text>
<text transform="translate(331.215 32.625) scale(0.9856 1.0098)" font-size="10.00" stroke="#000" stroke-width="0.221">2</text><text transform="translate(337.079 32.625) scale(1.0496 1.1018)" font-size="10.00" stroke="#000" stroke-width="0.205">.</text><text transform="translate(340.215 32.625) scale(0.9856 1.0098)" font-size="10.00" stroke="#000" stroke-width="0.221">2</text><text transform="translate(346.362 32.661) scale(0.9650 1.0118)" font-size="10.00" stroke="#000" stroke-width="0.223">5</text>
<text transform="translate(331.215 7.399) scale(0.9856 1.0098)" font-size="10.00" stroke="#000" stroke-width="0.221">2</text><text transform="translate(337.079 7.399) scale(1.0496 1.1018)" font-size="10.00" stroke="#000" stroke-width="0.205">.</text><text transform="translate(340.362 7.435) scale(0.9650 1.0118)" font-size="10.00" stroke="#000" stroke-width="0.223">5</text><text transform="translate(346.240 7.435) scale(1.0225 1.0149)" font-size="10.00" stroke="#000" stroke-width="0.216">0</text>
<text transform="translate(714.011 219.999) scale(1.2498 1.1062)" font-size="10.00" stroke="#000" stroke-width="0.187">−</text><text transform="translate(721.922 219.299) scale(0.9766 1.0066)" font-size="10.00" stroke="#000" stroke-width="0.222">1</text><text transform="translate(727.840 219.335) scale(1.0225 1.0149)" font-size="10.00" stroke="#000" stroke-width="0.216">0</text><text transform="translate(733.679 219.299) scale(1.0496 1.1018)" font-size="10.00" stroke="#000" stroke-width="0.205">.</text><text transform="translate(736.840 219.335) scale(1.0225 1.0149)" font-size="10.00" stroke="#000" stroke-width="0.216">0</text>
<text transform="translate(714.011 193.699) scale(1.2498 1.1062)" font-size="10.00" stroke="#000" stroke-width="0.187">−</text><text transform="translate(721.883 192.999) scale(1.0002 1.0066)" font-size="10.00" stroke="#000" stroke-width="0.219">7</text><text transform="translate(727.679 192.999) scale(1.0496 1.1018)" font-size="10.00" stroke="#000" stroke-width="0.205">.</text><text transform="translate(730.962 193.035) scale(0.9650 1.0118)" font-size="10.00" stroke="#000" stroke-width="0.223">5</text>
<text transform="translate(714.011 167.399) scale(1.2498 1.1062)" font-size="10.00" stroke="#000" stroke-width="0.187">−</text><text transform="translate(721.962 166.735) scale(0.9650 1.0118)" font-size="10.00" stroke="#000" stroke-width="0.223">5</text><text transform="translate(727.679 166.699) scale(1.0496 1.1018)" font-size="10.00" stroke="#000" stroke-width="0.205">.</text><text transform="translate(730.840 166.735) scale(1.0225 1.0149)" font-size="10.00" stroke="#000" stroke-width="0.216">0</text>
<text transform="translate(714.011 141.099) scale(1.2498 1.1062)" font-size="10.00" stroke="#000" stroke-width="0.187">−</text><text transform="translate(721.815 140.399) scale(0.9856 1.0098)" font-size="10.00" stroke="#000" stroke-width="0.221">2</text><text transform="translate(727.679 140.399) scale(1.0496 1.1018)" font-size="10.00" stroke="#000" stroke-width="0.205">.</text><text transform="translate(730.962 140.435) scale(0.9650 1.0118)" font-size="10.00" stroke="#000" stroke-width="0.223">5</text>
<text transform="translate(713.840 114.135) scale(1.0225 1.0149)" font-size="10.00" stroke="#000" stroke-width="0.216">0</text><text transform="translate(719.679 114.099) scale(1.0496 1.1018)" font-size="10.00" stroke="#000" stroke-width="0.205">.</text><text transform="translate(722.840 114.135) scale(1.0225 1.0149)" font-size="10.00" stroke="#000" stroke-width="0.216">0</text>
<text transform="translate(713.815 87.799) scale(0.9856 1.0098)" font-size="10.00" stroke="#000" stroke-width="0.221">2</text><text transform="translate(719.679 87.799) scale(1.0496 1.1018)" font-size="10.00" stroke="#000" stroke-width="0.205">.</text><text transform="translate(722.962 87.835) scale(0.9650 1.0118)" font-size="10.00" stroke="#000" stroke-width="0.223">5</text>
<text transform="translate(713.962 61.535) scale(0.9650 1.0118)" font-size="10.00" stroke="#000" stroke-width="0.223">5</text><text transform="translate(719.679 61.499) scale(1.0496 1.1018)" font-size="10.00" stroke="#000" stroke-width="0.205">.</text><text transform="translate(722.840 61.535) scale(1.0225 1.0149)" font-size="10.00" stroke="#000" stroke-width="0.216">0</text>
<text transform="translate(713.883 35.199) scale(1.0002 1.0066)" font-size="10.00" stroke="#000" stroke-width="0.219">7</text><text transform="translate(719.679 35.199) scale(1.0496 1.1018)" font-size="10.00" stroke="#000" stroke-width="0.205">.</text><text transform="translate(722.962 35.235) scale(0.9650 1.0118)" font-size="10.00" stroke="#000" stroke-width="0.223">5</text>
<text transform="translate(713.922 8.899) scale(0.9766 1.0066)" font-size="10.00" stroke="#000" stroke-width="0.222">1</text><text transform="translate(719.840 8.935) scale(1.0225 1.0149)" font-size="10.00" stroke="#000" stroke-width="0.216">0</text><text transform="translate(725.679 8.899) scale(1.0496 1.1018)" font-size="10.00" stroke="#000" stroke-width="0.205">.</text><text transform="translate(728.840 8.935) scale(1.0225 1.0149)" font-size="10.00" stroke="#000" stroke-width="0.216">0</text>
<g transform="translate(148.900 246.616) translate(17.589 0) scale(1.0250) translate(-17.589 0)"><text transform="translate(-0.349 -0.797) scale(1.0988 1.0596)" font-size="14.00" stroke="#000" stroke-width="0.102">Δ</text><text transform="translate(9.618 -0.943) scale(1.3437 1.0699)" font-size="14.00" font-style="italic" stroke="#000" stroke-width="0.091">t</text><text transform="translate(15.131 1.418) scale(1.3365 1.0731)" font-size="9.80" stroke="#000" stroke-width="0.091">t</text><text transform="translate(18.965 1.500) scale(1.2812 1.0408)" font-size="9.80" stroke="#000" stroke-width="0.095">r</text><text transform="translate(23.084 1.537) scale(1.0782 1.0672)" font-size="9.80" stroke="#000" stroke-width="0.103">u</text><text transform="translate(29.240 1.538) scale(1.0801 1.0481)" font-size="9.80" stroke="#000" stroke-width="0.103">e</text></g>
<g transform="translate(11.363 122.590) rotate(-90) translate(12.541 0) scale(1.0300) translate(-12.541 0)"><text transform="translate(-0.349 -0.797) scale(1.0988 1.0596)" font-size="14.00" stroke="#000" stroke-width="0.102">Δ</text><text transform="translate(9.618 -0.943) scale(1.3437 1.0699)" font-size="14.00" font-style="italic" stroke="#000" stroke-width="0.091">t</text><text transform="translate(15.109 1.500) scale(1.3131 1.0499)" font-size="9.80" stroke="#000" stroke-width="0.093">f</text><text transform="translate(18.770 1.500) scale(1.0222 1.0485)" font-size="9.80" stroke="#000" stroke-width="0.106">i</text><text transform="translate(21.304 1.418) scale(1.3365 1.0731)" font-size="9.80" stroke="#000" stroke-width="0.091">t</text></g>
<g transform="translate(532.250 246.716) translate(17.589 0) scale(1.0250) translate(-17.589 0)"><text transform="translate(-0.349 -0.797) scale(1.0988 1.0596)" font-size="14.00" stroke="#000" stroke-width="0.102">Δ</text><text transform="translate(9.618 -0.943) scale(1.3437 1.0699)" font-size="14.00" font-style="italic" stroke="#000" stroke-width="0.091">t</text><text transform="translate(15.131 1.418) scale(1.3365 1.0731)" font-size="9.80" stroke="#000" stroke-width="0.091">t</text><text transform="translate(18.965 1.500) scale(1.2812 1.0408)" font-size="9.80" stroke="#000" stroke-width="0.095">r</text><text transform="translate(23.084 1.537) scale(1.0782 1.0672)" font-size="9.80" stroke="#000" stroke-width="0.103">u</text><text transform="translate(29.240 1.538) scale(1.0801 1.0481)" font-size="9.80" stroke="#000" stroke-width="0.103">e</text></g>
<g transform="translate(400.697 136.890) rotate(-90) translate(26.521 0) scale(1.0300) translate(-26.521 0)"><text transform="translate(0.137 -0.701) scale(1.0945 1.0481)" font-size="14.00" font-style="italic" stroke="#000" stroke-width="0.103">μ</text><text transform="translate(24.159 -0.701) scale(1.0945 1.0481)" font-size="14.00" font-style="italic" stroke="#000" stroke-width="0.103">μ</text><text transform="translate(8.950 1.500) scale(1.3131 1.0499)" font-size="9.80" stroke="#000" stroke-width="0.093">f</text><text transform="translate(12.611 1.500) scale(1.0222 1.0485)" font-size="9.80" stroke="#000" stroke-width="0.106">i</text><text transform="translate(15.145 1.418) scale(1.3365 1.0731)" font-size="9.80" stroke="#000" stroke-width="0.091">t</text><text transform="translate(32.994 1.418) scale(1.3365 1.0731)" font-size="9.80" stroke="#000" stroke-width="0.091">t</text><text transform="translate(36.828 1.500) scale(1.2812 1.0408)" font-size="9.80" stroke="#000" stroke-width="0.095">r</text><text transform="translate(40.947 1.537) scale(1.0782 1.0672)" font-size="9.80" stroke="#000" stroke-width="0.103">u</text><text transform="translate(47.103 1.538) scale(1.0801 1.0481)" font-size="9.80" stroke="#000" stroke-width="0.103">e</text><text transform="translate(19.305 0.349) scale(1.2127 1.1190)" font-size="14.00" stroke="#000" stroke-width="0.094">/</text></g>
<g transform="translate(367.875 137.090) rotate(-90) translate(26.521 0) scale(1.0300) translate(-26.521 0)"><text transform="translate(0.137 -0.701) scale(1.0945 1.0481)" font-size="14.00" font-style="italic" stroke="#000" stroke-width="0.103">μ</text><text transform="translate(24.159 -0.701) scale(1.0945 1.0481)" font-size="14.00" font-style="italic" stroke="#000" stroke-width="0.103">μ</text><text transform="translate(8.950 1.500) scale(1.3131 1.0499)" font-size="9.80" stroke="#000" stroke-width="0.093">f</text><text transform="translate(12.611 1.500) scale(1.0222 1.0485)" font-size="9.80" stroke="#000" stroke-width="0.106">i</text><text transform="translate(15.145 1.418) scale(1.3365 1.0731)" font-size="9.80" stroke="#000" stroke-width="0.091">t</text><text transform="translate(32.994 1.418) scale(1.3365 1.0731)" font-size="9.80" stroke="#000" stroke-width="0.091">t</text><text transform="translate(36.828 1.500) scale(1.2812 1.0408)" font-size="9.80" stroke="#000" stroke-width="0.095">r</text><text transform="translate(40.947 1.537) scale(1.0782 1.0672)" font-size="9.80" stroke="#000" stroke-width="0.103">u</text><text transform="translate(47.103 1.538) scale(1.0801 1.0481)" font-size="9.80" stroke="#000" stroke-width="0.103">e</text><text transform="translate(19.305 0.349) scale(1.2127 1.1190)" font-size="14.00" stroke="#000" stroke-width="0.094">/</text></g>
<g transform="translate(758.883 149.630) rotate(-90) translate(38.914 0) scale(1.0300) translate(-38.914 0)"><text transform="translate(-0.349 -0.797) scale(1.0988 1.0596)" font-size="14.00" stroke="#000" stroke-width="0.102">Δ</text><text transform="translate(28.786 0.235) scale(1.2884 1.1644)" font-size="14.00" stroke="#000" stroke-width="0.090">−</text><text transform="translate(42.301 -0.797) scale(1.0988 1.0596)" font-size="14.00" stroke="#000" stroke-width="0.102">Δ</text><text transform="translate(9.618 -0.943) scale(1.3437 1.0699)" font-size="14.00" font-style="italic" stroke="#000" stroke-width="0.091">t</text><text transform="translate(52.269 -0.943) scale(1.3437 1.0699)" font-size="14.00" font-style="italic" stroke="#000" stroke-width="0.091">t</text><text transform="translate(15.109 1.500) scale(1.3131 1.0499)" font-size="9.80" stroke="#000" stroke-width="0.093">f</text><text transform="translate(18.770 1.500) scale(1.0222 1.0485)" font-size="9.80" stroke="#000" stroke-width="0.106">i</text><text transform="translate(21.304 1.418) scale(1.3365 1.0731)" font-size="9.80" stroke="#000" stroke-width="0.091">t</text><text transform="translate(57.781 1.418) scale(1.3365 1.0731)" font-size="9.80" stroke="#000" stroke-width="0.091">t</text><text transform="translate(61.615 1.500) scale(1.2812 1.0408)" font-size="9.80" stroke="#000" stroke-width="0.095">r</text><text transform="translate(65.735 1.537) scale(1.0782 1.0672)" font-size="9.80" stroke="#000" stroke-width="0.103">u</text><text transform="translate(71.890 1.538) scale(1.0801 1.0481)" font-size="9.80" stroke="#000" stroke-width="0.103">e</text></g></svg>
</body></html>
